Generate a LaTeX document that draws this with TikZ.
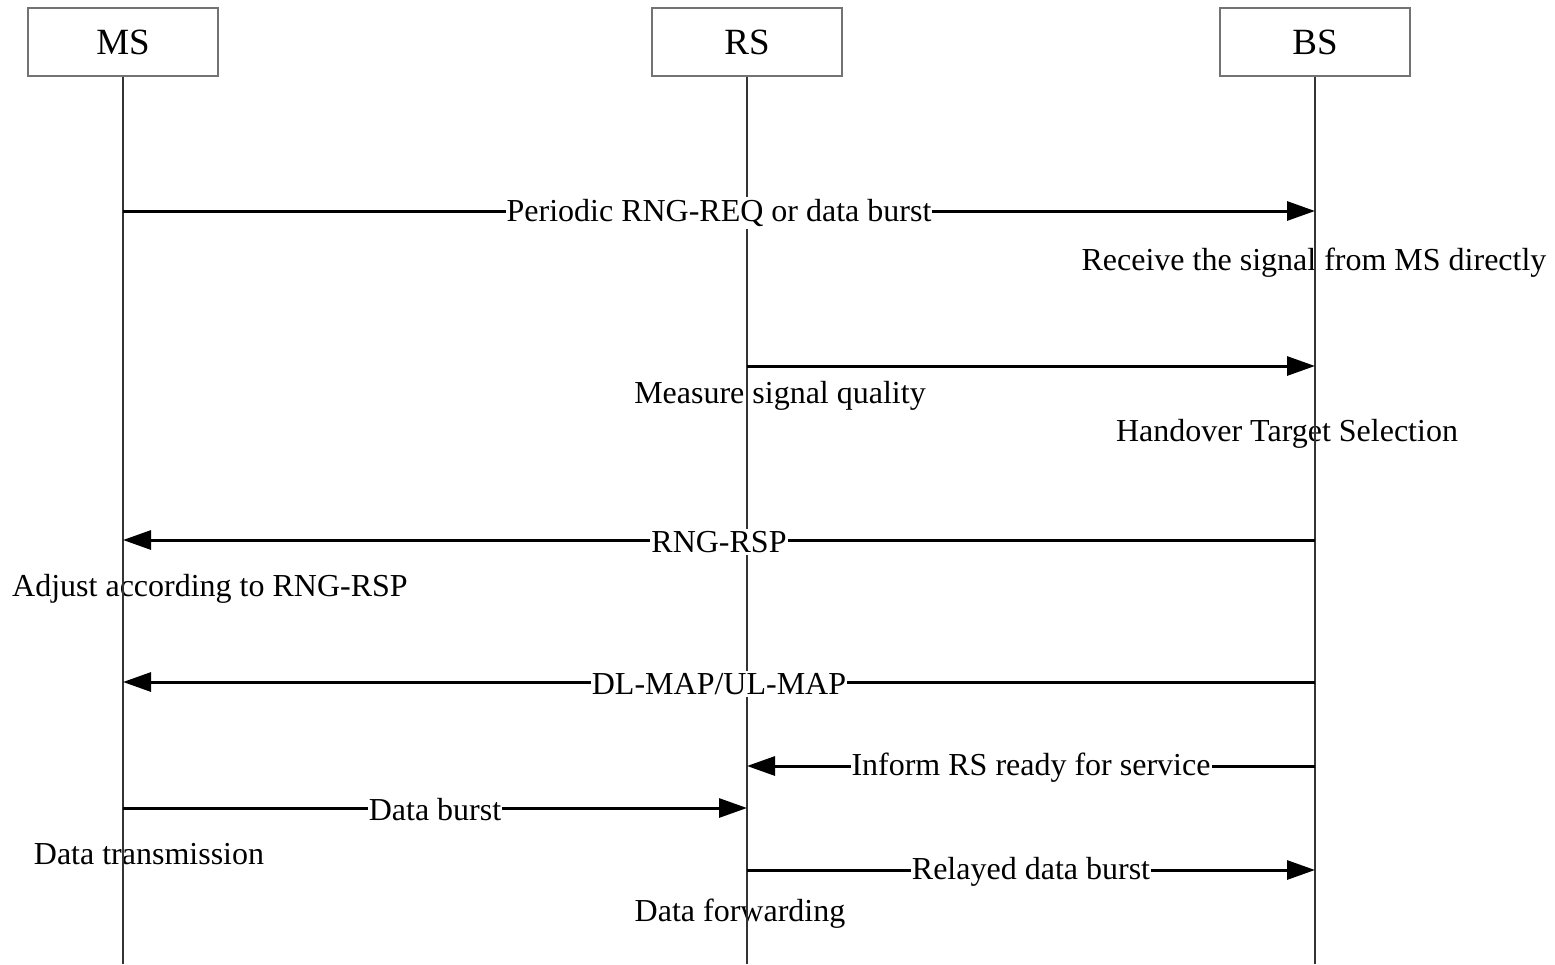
\documentclass[tikz,border=0pt]{standalone}
\usepackage{fontspec}
\setmainfont{Liberation Serif}
\usetikzlibrary{arrows.meta}
\tikzset{
  entity/.style={draw=black!55, line width=2.5pt, fill=white, minimum width=190pt, minimum height=68pt, font=\fontsize{37}{40}\selectfont, inner sep=0pt},
  life/.style={draw=black!80, line width=2pt},
  msg/.style={draw=black, line width=3pt, -{Triangle[length=28pt,width=19pt]}},
  msglabel/.style={fill=white, inner xsep=1pt, inner ysep=2pt, yshift=-2pt, font=\fontsize{32}{35}\selectfont},
  note/.style={font=\fontsize{32}{35}\selectfont, inner sep=0pt}
}
\begin{document}
\begin{tikzpicture}[x=1pt,y=-1pt]
\useasboundingbox (0,0) rectangle (1555,964);
\fill[white] (0,0) rectangle (1555,964);
% entities
\node[entity] (MS) at (123,42) {MS};
\node[entity] (RS) at (747,42) {RS};
\node[entity] (BS) at (1315,42) {BS};
\coordinate (MSend) at (123,964);
\coordinate (RSend) at (747,964);
\coordinate (BSend) at (1315,964);
% message anchor points
\coordinate (m1a) at (123,211); \coordinate (m1b) at (1315,211);
\coordinate (m2a) at (747,366); \coordinate (m2b) at (1315,366);
\coordinate (m3a) at (1315,540); \coordinate (m3b) at (123,540);
\coordinate (m4a) at (1315,682); \coordinate (m4b) at (123,682);
\coordinate (m5a) at (1315,766); \coordinate (m5b) at (747,766);
\coordinate (m6a) at (123,808); \coordinate (m6b) at (747,808);
\coordinate (m7a) at (747,870); \coordinate (m7b) at (1315,870);
% notes
\node[note] (n1) at (1314,263) {Receive the signal from MS directly};
\node[note] (n2) at (780,396) {Measure signal quality};
\node[note] (n3) at (1287,434) {Handover Target Selection};
\node[note] (n4) at (210,589) {Adjust according to RNG-RSP};
\node[note] (n5) at (149,854) {Data transmission};
\node[note] (n6) at (740,914) {Data forwarding};
% lifelines
\draw[life] (MS.south) -- (MSend);
\draw[life] (RS.south) -- (RSend);
\draw[life] (BS.south) -- (BSend);
% messages
\draw[msg] (m1a) -- node[msglabel] {Periodic RNG-REQ or data burst} (m1b);
\draw[msg] (m2a) -- (m2b);
\draw[msg] (m3a) -- node[msglabel] {RNG-RSP} (m3b);
\draw[msg] (m4a) -- node[msglabel] {DL-MAP/UL-MAP} (m4b);
\draw[msg] (m5a) -- node[msglabel] {Inform RS ready for service} (m5b);
\draw[msg] (m6a) -- node[msglabel] {Data burst} (m6b);
\draw[msg] (m7a) -- node[msglabel] {Relayed data burst} (m7b);
\end{tikzpicture}
\end{document}
